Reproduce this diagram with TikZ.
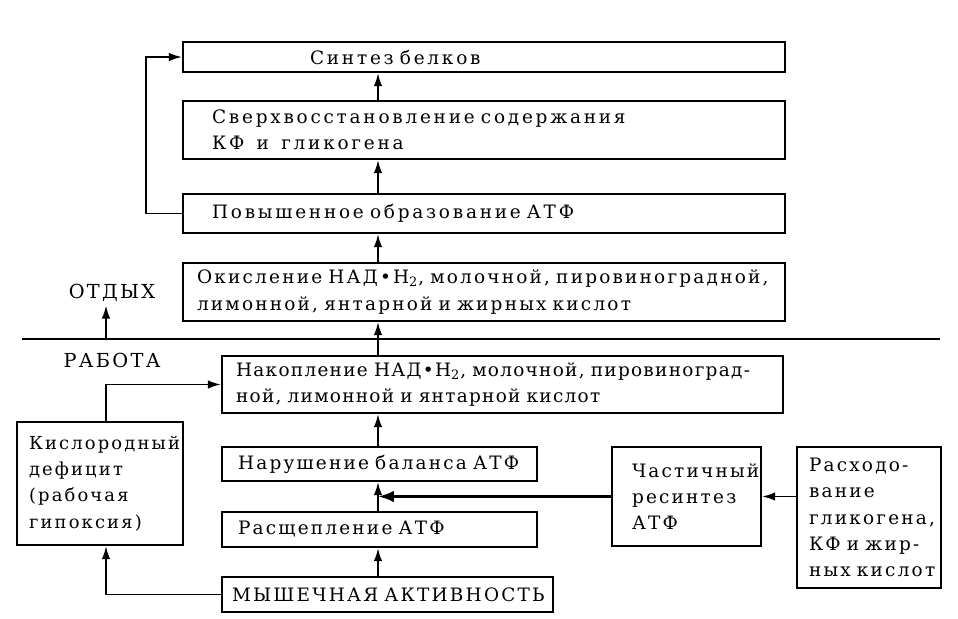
\documentclass[tikz,border=0pt]{standalone}
\usepackage{fontspec}
\setmainfont{DejaVu Serif}[LetterSpace=12, WordSpace=1.9]
\newfontfamily\widefont{DejaVu Serif}[LetterSpace=15, WordSpace=2.2]
\newfontfamily\tightfont{DejaVu Serif}[LetterSpace=7, WordSpace=1.9]
\usetikzlibrary{arrows.meta}
\tikzset{
  box/.style={draw, line width=1.3pt, align=left, inner ysep=0pt,
    font=\fontsize{10.5}{15}\selectfont},
  lbl/.style={font=\fontsize{11}{14}\selectfont, inner sep=2pt},
  arr/.style={line width=1pt, -{Latex[length=2.6mm,width=1.7mm]}},
  arrbold/.style={line width=1.5pt, -{Latex[length=3.2mm,width=2.3mm]}},
}
\begin{document}
\begin{tikzpicture}[x=0.02cm, y=-0.02cm]
    \useasboundingbox (0,0) rectangle (958,619);
    \coordinate (spine) at (378,0);
    \coordinate (hyp) at (106,0);
    \coordinate (divL) at (22,339);
    \coordinate (divR) at (940,339);

    % rest
    \node[box, minimum width=12.04cm, minimum height=0.6cm,
      inner xsep=2.54cm, text width=6.96cm,
      font=\widefont\fontsize{10.5}{15}\selectfont]
      (synt) at (484,57)
      {Синтез белков};
    \node[box, minimum width=12.04cm, minimum height=1.16cm,
      inner xsep=0.58cm, text width=10.88cm,
      font=\widefont\fontsize{10.5}{15}\selectfont]
      (sverh) at (484,130)
      {\mbox{Сверхвосстановление содержания}\\КФ \ и \ гликогена};
    \node[box, minimum width=12.04cm, minimum height=0.78cm,
      inner xsep=0.58cm, text width=10.88cm,
      font=\widefont\fontsize{10.5}{15}\selectfont]
      (povysh) at (484,213.5)
      {Повышенное образование АТФ};
    \node[box, minimum width=12.04cm, minimum height=1.16cm,
      inner xsep=0.28cm, text width=11.48cm] (okisl) at (484,292)
      {\mbox{Окисление НАД•Н\textsubscript{2}, молочной, пировиноградной,}\\
       лимонной, янтарной и жирных кислот};

    \draw[line width=1.6pt] (divL) -- (divR);
    \node[lbl] (otdyh) at (112,293) {ОТДЫХ};
    \node[lbl] (rabota) at (112,360) {РАБОТА};

    % work
    \node[box, minimum width=11.22cm, minimum height=1.14cm,
      inner xsep=0.28cm, text width=10.66cm,
      font=\tightfont\fontsize{10.5}{15}\selectfont]
      (nakop) at (502.5,384.5)
      {\mbox{Накопление НАД•Н\textsubscript{2}, молочной, пировиноград-}\\
       ной, лимонной и янтарной кислот};
    \node[box, minimum width=3.32cm, minimum height=2.46cm,
      inner xsep=0.24cm, text width=2.84cm, font=\fontsize{10.2}{15}\selectfont]
      (kislor) at (100,483.5)
      {Кислородный\\дефицит\\(рабочая\\гипоксия)};
    \node[box, minimum width=6.3cm, minimum height=0.68cm,
      inner xsep=0.32cm, text width=5.66cm] (narush) at (379.5,464)
      {\mbox{Нарушение баланса АТФ}};
    \node[box, minimum width=6.3cm, minimum height=0.7cm,
      inner xsep=0.32cm, text width=5.66cm] (rassch) at (379.5,529.5)
      {Расщепление АТФ};
    \node[box, minimum width=6.62cm, minimum height=0.7cm,
      inner xsep=0.2cm, text width=6.22cm, font=\fontsize{10.5}{15}\selectfont]
      (mysh) at (387.5,594.5)
      {\mbox{МЫШЕЧНАЯ АКТИВНОСТЬ}};
    \node[box, minimum width=2.98cm, minimum height=1.98cm,
      inner xsep=0.4cm, text width=2.18cm] (chast) at (686.5,496.5)
      {Частичный\\ресинтез\\АТФ};
    \node[box, minimum width=2.88cm, minimum height=2.82cm,
      inner xsep=0.24cm, text width=2.4cm] (rashod) at (869,517.5)
      {Расходо-\\вание\\гликогена,\\\mbox{КФ и жир-}\\\mbox{ных кислот}};

    % arrows
    \draw[arr] (sverh.north -| spine) -- (synt.south -| spine);
    \draw[arr] (povysh.north -| spine) -- (sverh.south -| spine);
    \draw[arr] (okisl.north -| spine) -- (povysh.south -| spine);
    \draw[arr] (nakop.north -| spine) -- (okisl.south -| spine);
    \draw[arr] (narush.north -| spine) -- (nakop.south -| spine);
    \draw[arr] (rassch.north -| spine) -- (narush.south -| spine);
    \draw[arr] (mysh.north -| spine) -- (rassch.south -| spine);
    \draw[arrbold] (chast.west) -- (chast.west -| spine);
    \draw[arr] (rashod.west |- chast.east) -- (chast.east);
    \draw[arr] (povysh.west) -- ++(-36,0) |- (synt.west);
    \draw[arr] (divL -| hyp) -- (otdyh.south -| hyp);
    \draw[arr] (kislor.north -| hyp) |- (nakop.west);
    \draw[arr] (mysh.west) -| (kislor.south -| hyp);
\end{tikzpicture}
\end{document}
